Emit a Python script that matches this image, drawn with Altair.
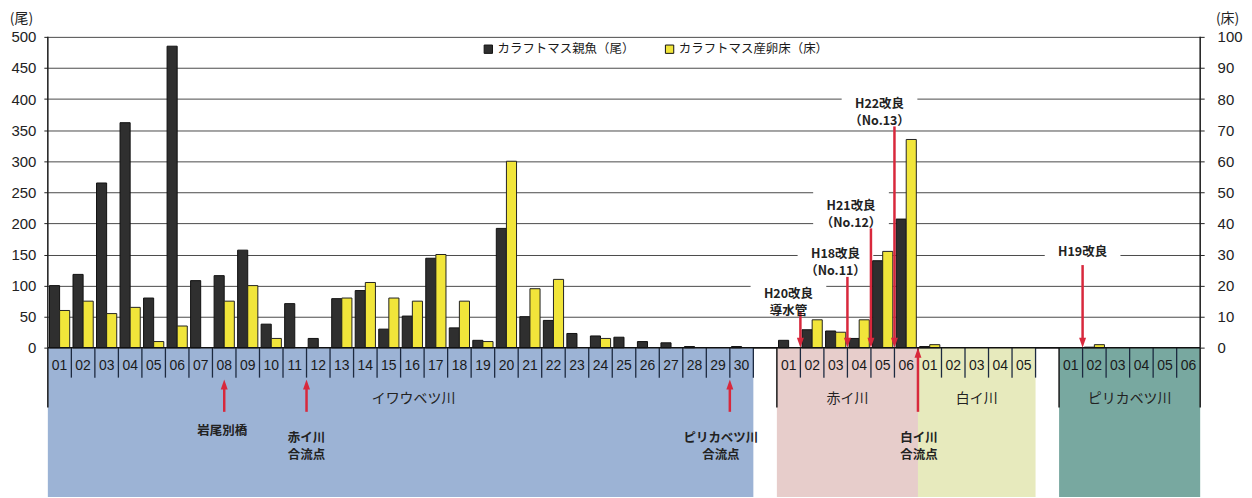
import json
import altair as alt
import pandas as pd

# ---------------- data ----------------
RIVERS = ["イワウベツ川", "赤イ川", "白イ川", "ピリカベツ川"]
RIVER_COLORS = ["#9cb3d5", "#e7cdcb", "#e7eabd", "#78a8a0"]

IWAU_LABELS = ["01", "02", "03", "04", "05", "06", "07", "08", "09", "10",
               "11", "12", "13", "14", "15", "16", "17", "18", "19", "20",
               "21", "22", "23", "24", "25", "26", "27", "28", "29", "30"]
IWAU_FISH = [100, 118, 265, 362, 80, 485, 108, 116, 157, 38,
             71, 15, 79, 92, 30, 51, 144, 32, 12, 192,
             50, 44, 23, 19, 17, 10, 8, 2, 0, 2]
IWAU_REDDS = [12, 15, 11, 13, 2, 7, 0, 15, 20, 3,
              0, 0, 16, 21, 16, 15, 30, 15, 2, 60,
              19, 22, 0, 3, 0, 0, 0, 0, 0, 0]

AKAI_LABELS = ["01", "02", "03", "04", "05", "06"]
AKAI_FISH = [12, 29, 27, 15, 140, 207]
AKAI_REDDS = [0, 9, 5, 9, 31, 67]

SHIRAI_LABELS = ["01", "02", "03", "04", "05"]
SHIRAI_FISH = [2, 0, 0, 0, 0]
SHIRAI_REDDS = [1, 0, 0, 0, 0]

PIRI_LABELS = ["01", "02", "03", "04", "05", "06"]
PIRI_FISH = [0, 1, 0, 0, 0, 0]
PIRI_REDDS = [0, 1, 0, 0, 0, 0]

SERIES = ["カラフトマス親魚（尾）", "カラフトマス産卵床（床）"]
LEFT_TICKS = [0, 50, 100, 150, 200, 250, 300, 350, 400, 450, 500]
RIGHT_TICKS = [0, 10, 20, 30, 40, 50, 60, 70, 80, 90, 100]

UPPER_NOTES = [
    ("H20改良\n導水管", "赤イ川", "02"),
    ("H18改良\n（No.11）", "赤イ川", "04"),
    ("H21改良\n（No.12）", "赤イ川", "05"),
    ("H22改良\n（No.13）", "赤イ川", "06"),
    ("H19改良", "ピリカベツ川", "02"),
]
LOWER_NOTES = [
    ("岩尾別橋", "イワウベツ川", "08"),
    ("赤イ川\n合流点", "イワウベツ川", "12"),
    ("ピリカベツ川\n合流点", "イワウベツ川", "30"),
    ("白イ川\n合流点", "白イ川", "01"),
]

# ---------------- layout ----------------
W, H = 1157, 462
GAP_AFTER = [1, 0, 1, 0]
LONG_LEFT = [True, True, False, True]
LONG_RIGHT = [False, False, False, True]
NAME_DX = [13, 0, 0, 0]
# (arrow top, text centre, text dx px)
UPPER_LAYOUT = [(59, 86.5, -12), (114, 150, -12), (192, 228, -20), (356, 392, -15), (133, 154, 0)]
# (arrow bottom, arrow tip, text centre, text dx px, at slot centre?)
LOWER_LAYOUT = [(-103, -51, -134.6, -2, True), (-103, -51, -145, 0, False),
                (-103, -51, -145, -9, False), (-103, 0, -145, 1, False)]
RED = "#d8283c"
JP = "Noto Sans CJK JP"

river_data = [
    (RIVERS[0], IWAU_LABELS, IWAU_FISH, IWAU_REDDS),
    (RIVERS[1], AKAI_LABELS, AKAI_FISH, AKAI_REDDS),
    (RIVERS[2], SHIRAI_LABELS, SHIRAI_FISH, SHIRAI_REDDS),
    (RIVERS[3], PIRI_LABELS, PIRI_FISH, PIRI_REDDS),
]

rows, blocks, idx = [], [], {}
pos = 0
for r, (name, labels, fish, redds) in enumerate(river_data):
    start = pos
    for lab, f, d in zip(labels, fish, redds):
        rows.append(dict(i=pos, river=name, label=lab, fish=f, redds=d))
        idx[(name, lab)] = pos
        pos += 1
    blocks.append(dict(river=name, start=start, end=pos))
    pos += GAP_AFTER[r]
NSLOTS = pos

df = pd.DataFrame(rows)
blocks_df = pd.DataFrame(blocks)

short_x, long_x = [], []
for r, b in enumerate(blocks):
    for i in range(b["start"], b["end"]):
        if i == b["start"] and LONG_LEFT[r]:
            long_x.append(i)
        else:
            short_x.append(i)
    (long_x if LONG_RIGHT[r] else short_x).append(b["end"])

xs = alt.Scale(domain=[0, NSLOTS], nice=False, zero=False)
YDOM = [-240, 500]
RDOM = [-48, 100]


def ys():
    return alt.Scale(domain=YDOM, nice=False, zero=False)


def X(field):
    return alt.X(field, type="quantitative", scale=xs, axis=None)


def YD(v):
    return alt.YDatum(v, scale=ys(), axis=None)


color_scale = alt.Scale(domain=SERIES, range=["#2f2f2f", "#f1e53a"])
legend = alt.Legend(orient="none", legendX=436, legendY=6, direction="horizontal",
                    title=None, symbolType="square", symbolSize=70,
                    symbolStrokeColor="#111", symbolStrokeWidth=1,
                    labelFont=JP, labelFontSize=12.5, labelColor="#1a1a1a",
                    columnPadding=28, labelOffset=3)

left_axis = alt.Axis(values=LEFT_TICKS, orient="left", grid=True, gridColor="#4a4a4a", gridWidth=1,
                     domain=False, ticks=True, tickSize=4, tickColor="#222",
                     labelFont="Liberation Sans", labelFontSize=15, labelColor="#222",
                     labelPadding=8, title="(尾)", titleAngle=0, titleX=-27, titleY=-18,
                     titleFont=JP, titleFontSize=14, titleFontWeight="normal",
                     titleAlign="center", titleBaseline="middle", titleColor="#222")
right_axis = alt.Axis(values=RIGHT_TICKS, orient="right", grid=False, domain=False,
                      ticks=True, tickSize=4, tickColor="#222",
                      labelFont="Liberation Sans", labelFontSize=15, labelColor="#222",
                      labelPadding=13, title="(床)", titleAngle=0, titleX=27, titleY=-18,
                      titleFont=JP, titleFontSize=14, titleFontWeight="normal",
                      titleAlign="center", titleBaseline="middle", titleColor="#222")

layers = []

# white boxes behind upper annotation texts (gaps in gridlines)
for (text, river, lab), (top, ty, dx) in zip(UPPER_NOTES, UPPER_LAYOUT):
    two = "\n" in text
    path = "M-1,-0.5H1V0.5H-1Z" if two else "M-1,-0.28H1V0.28H-1Z"
    layers.append(
        alt.Chart(pd.DataFrame({"x": [idx[(river, lab)]]}))
        .mark_point(shape=path, size=76 * 76, filled=True, color="white",
                    opacity=1, strokeWidth=0, xOffset=dx)
        .encode(x=X("x"), y=YD(ty))
    )

# river background blocks (carry the left axis + grid)
layers.append(
    alt.Chart(blocks_df).mark_rect(strokeWidth=0).encode(
        x=X("start"), x2="end",
        y=alt.YDatum(0, scale=ys(), axis=left_axis), y2=alt.Y2Datum(-240),
        fill=alt.Fill("river:N", scale=alt.Scale(domain=RIVERS, range=RIVER_COLORS), legend=None),
    )
)

# black bars: adult fish (尾)
layers.append(
    alt.Chart(df).transform_filter("datum.fish > 0").transform_calculate(
        x0="datum.i + 0.07", x1="datum.i + 0.5", series=json.dumps(SERIES[0])
    ).mark_rect(stroke="#111", strokeWidth=1).encode(
        x=X("x0"), x2="x1",
        y=alt.Y("fish:Q", scale=ys(), axis=None), y2=alt.Y2Datum(0),
        color=alt.Color("series:N", scale=color_scale, legend=legend),
    )
)

# yellow bars: redds (床) on right axis
layers.append(
    alt.Chart(df).transform_filter("datum.redds > 0").transform_calculate(
        x0="datum.i + 0.5", x1="datum.i + 0.93", series=json.dumps(SERIES[1])
    ).mark_rect(stroke="#222", strokeWidth=1).encode(
        x=X("x0"), x2="x1",
        y=alt.Y("redds:Q", scale=alt.Scale(domain=RDOM, nice=False, zero=False), axis=right_axis),
        y2=alt.Y2Datum(0),
        color=alt.Color("series:N", scale=color_scale, legend=legend),
    )
)

# cell separators, block edges, axis lines, zero line
layers.append(
    alt.Chart(pd.DataFrame({"x": short_x})).mark_rule(color="#1d2a40", strokeWidth=1.3)
    .encode(x=X("x"), y=YD(0), y2=alt.Y2Datum(-48))
)
layers.append(
    alt.Chart(pd.DataFrame({"x": long_x})).mark_rule(color="#1a1a1a", strokeWidth=1.5)
    .encode(x=X("x"), y=YD(0), y2=alt.Y2Datum(-96))
)
layers.append(
    alt.Chart(pd.DataFrame({"x": [0, NSLOTS]})).mark_rule(color="#1a1a1a", strokeWidth=1.5)
    .encode(x=X("x"), y=YD(0), y2=alt.Y2Datum(500))
)
layers.append(
    alt.Chart(pd.DataFrame({"x0": [0], "x1": [NSLOTS]})).mark_rule(color="#111", strokeWidth=1.5)
    .encode(x=X("x0"), x2="x1", y=YD(0))
)

# cell labels and river names
layers.append(
    alt.Chart(df).transform_calculate(xc="datum.i + 0.5")
    .mark_text(font="Liberation Sans", fontSize=14, color="#1a1a1a", baseline="middle")
    .encode(x=X("xc"), y=YD(-30), text="label:N")
)
for r, b in enumerate(blocks):
    layers.append(
        alt.Chart(pd.DataFrame([b])).transform_calculate(xc="(datum.start + datum.end) / 2")
        .mark_text(font=JP, fontSize=14, color="#222", baseline="middle", dx=NAME_DX[r])
        .encode(x=X("xc"), y=YD(-83), text="river:N")
    )

# annotations
DOWN = "M-0.7,-1L0.7,-1L0,1Z"
UP = "M-0.7,1L0.7,1L0,-1Z"
for (text, river, lab), (top, ty, dx) in zip(UPPER_NOTES, UPPER_LAYOUT):
    d = pd.DataFrame({"x": [idx[(river, lab)]], "t": [text]})
    layers.append(alt.Chart(d).mark_rule(color=RED, strokeWidth=2.5, y2Offset=-6)
                  .encode(x=X("x"), y=YD(top), y2=alt.Y2Datum(0)))
    layers.append(alt.Chart(d).mark_point(shape=DOWN, size=100, filled=True, color=RED,
                                          opacity=1, strokeWidth=0, yOffset=-5)
                  .encode(x=X("x"), y=YD(0)))
    layers.append(alt.Chart(d).mark_text(font=JP, fontSize=12.5, fontWeight="bold",
                                         color="#222", lineBreak="\n", lineHeight=17,
                                         dx=dx, baseline="middle")
                  .encode(x=X("x"), y=YD(ty), text="t:N"))

for (text, river, lab), (bot, tip, ty, dx, centre) in zip(LOWER_NOTES, LOWER_LAYOUT):
    d = pd.DataFrame({"x": [idx[(river, lab)]], "t": [text]})
    xexpr = "datum.x + 0.5" if centre else "datum.x"
    base = alt.Chart(d).transform_calculate(xa=xexpr)
    layers.append(base.mark_rule(color=RED, strokeWidth=2.5, y2Offset=6)
                  .encode(x=X("xa"), y=YD(bot), y2=alt.Y2Datum(tip)))
    layers.append(base.mark_point(shape=UP, size=100, filled=True, color=RED,
                                  opacity=1, strokeWidth=0, yOffset=5)
                  .encode(x=X("xa"), y=YD(tip)))
    layers.append(base.mark_text(font=JP, fontSize=12.5, fontWeight="bold",
                                 color="#222", lineBreak="\n", lineHeight=17,
                                 dx=dx, baseline="middle")
                  .encode(x=X("xa"), y=YD(ty), text="t:N"))

chart = alt.layer(*layers).resolve_scale(y="independent").properties(
    width=W, height=H,
    autosize=alt.AutoSizeParams(type="none"),
    padding={"left": 40, "top": 28, "right": 44, "bottom": 0},
).configure_view(stroke=None)

chart.save("out.html", embed_options={"renderer": "svg", "actions": False})
